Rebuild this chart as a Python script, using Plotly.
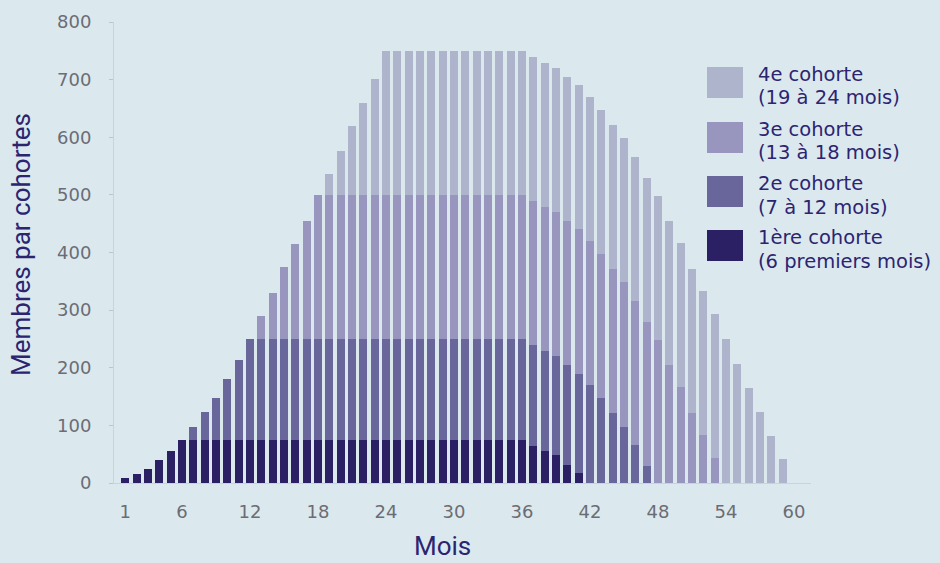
import plotly.graph_objects as go

# ---- data (members per cohort, months 1..60) ----
months = list(range(1, 61))

cohort1 = [8, 15, 24, 40, 55, 75, 75, 75, 75, 75,
           75, 75, 75, 75, 75, 75, 75, 75, 75, 75,
           75, 75, 75, 75, 75, 75, 75, 75, 75, 75,
           75, 75, 75, 75, 75, 75, 64, 56, 49, 32,
           18, 0, 0, 0, 0, 0, 0, 0, 0, 0,
           0, 0, 0, 0, 0, 0, 0, 0, 0, 0]

cohort2 = [0, 0, 0, 0, 0, 0, 22, 48, 73, 106,
           139, 175, 175, 175, 175, 175, 175, 175, 175, 175,
           175, 175, 175, 175, 175, 175, 175, 175, 175, 175,
           175, 175, 175, 175, 175, 175, 175, 173, 172, 173,
           172, 170, 147, 121, 98, 66, 30, 0, 0, 0,
           0, 0, 0, 0, 0, 0, 0, 0, 0, 0]

cohort3 = [0, 0, 0, 0, 0, 0, 0, 0, 0, 0,
           0, 0, 40, 80, 125, 165, 205, 250, 250, 250,
           250, 250, 250, 250, 250, 250, 250, 250, 250, 250,
           250, 250, 250, 250, 250, 250, 250, 250, 250, 250,
           250, 250, 250, 250, 250, 250, 250, 248, 205, 167,
           121, 83, 43, 0, 0, 0, 0, 0, 0, 0]

cohort4 = [0, 0, 0, 0, 0, 0, 0, 0, 0, 0,
           0, 0, 0, 0, 0, 0, 0, 0, 36, 77,
           120, 160, 201, 250, 250, 250, 250, 250, 250, 250,
           250, 250, 250, 250, 250, 250, 250, 250, 250, 250,
           250, 250, 250, 250, 250, 250, 250, 250, 250, 250,
           250, 250, 250, 250, 206, 165, 124, 82, 42, 0]

cohort_titles = ["1ère cohorte", "2e cohorte", "3e cohorte", "4e cohorte"]
cohort_spans = ["(6 premiers mois)", "(7 à 12 mois)", "(13 à 18 mois)", "(19 à 24 mois)"]

x_tick_vals = [1, 6, 12, 18, 24, 30, 36, 42, 48, 54, 60]
y_tick_vals = [0, 100, 200, 300, 400, 500, 600, 700, 800]

# ---- styling ----
colors = ["#2b2064", "#69669c", "#9896be", "#afb4cd"]
bg = "#dbe9ef"
text_col = "#2d2470"
tick_col = "#6c6c74"

W, H = 940, 563
ML, MR, MT, MB = 114, 129, 22, 80
PW, PH = W - ML - MR, H - MT - MB


def px_x(px):
    return (px - ML) / PW


def px_y(py):
    return (H - MB - py) / PH


fig = go.Figure()
for vals, col, t, s in zip([cohort1, cohort2, cohort3, cohort4], colors, cohort_titles, cohort_spans):
    fig.add_trace(go.Bar(x=months, y=vals, name=t + " " + s,
                         marker=dict(color=col, line=dict(width=0)),
                         showlegend=False))

# custom legend (top to bottom: 4e, 3e, 2e, 1ère)
shapes = []
annotations = []
tops = [67, 122, 176, 230]
legend_font = dict(family="DejaVu Sans", size=19.5, color=text_col)
for top, idx in zip(tops, [3, 2, 1, 0]):
    shapes.append(dict(type="rect", xref="paper", yref="paper",
                       x0=px_x(707), x1=px_x(743), y0=px_y(top + 31), y1=px_y(top),
                       fillcolor=colors[idx], line=dict(width=0)))
    annotations.append(dict(xref="paper", yref="paper", x=px_x(756), y=px_y(top + 7),
                            xanchor="left", yanchor="middle", showarrow=False,
                            text=cohort_titles[idx], font=legend_font))
    annotations.append(dict(xref="paper", yref="paper", x=px_x(756), y=px_y(top + 31),
                            xanchor="left", yanchor="middle", showarrow=False,
                            text=cohort_spans[idx], font=legend_font))

title_font = dict(family="Liberation Sans Narrow, Roboto, sans-serif", size=26, color=text_col)
annotations.append(dict(xref="paper", yref="paper", x=px_x(442), y=px_y(546),
                        xanchor="center", yanchor="middle", showarrow=False, text="Mois",
                        font=title_font))
annotations.append(dict(xref="paper", yref="paper", x=px_x(21), y=px_y(245),
                        xanchor="center", yanchor="middle", showarrow=False, textangle=-90,
                        text="Membres par cohortes", font=title_font))

fig.update_layout(
    width=W, height=H,
    margin=dict(l=ML, r=MR, t=MT, b=MB),
    paper_bgcolor=bg, plot_bgcolor=bg,
    barmode="stack", bargap=0.27,
    shapes=shapes, annotations=annotations,
    xaxis=dict(range=[0, 61.5], tickvals=x_tick_vals, ticktext=[str(v) for v in x_tick_vals],
               showgrid=False, zeroline=False, showline=True, linecolor="#c6d4dc",
               ticks="", ticklabelstandoff=12,
               tickfont=dict(family="DejaVu Sans", size=18, color=tick_col)),
    yaxis=dict(range=[0, 800], tickvals=y_tick_vals, showgrid=False, zeroline=False,
               showline=True, linecolor="#c6d4dc", ticks="outside", ticklen=4,
               tickcolor="#b8c6ce", ticklabelstandoff=14,
               tickfont=dict(family="DejaVu Sans", size=18, color=tick_col)),
)

fig.write_html("out.html", config={"displayModeBar": False},
               post_script="document.body.style.margin='0';document.body.style.background='" + bg + "';")
